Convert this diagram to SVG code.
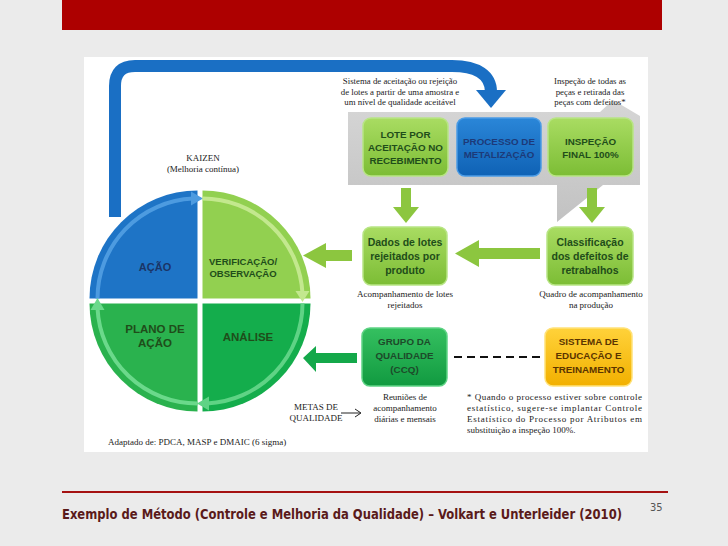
<svg xmlns="http://www.w3.org/2000/svg" width="728" height="546" viewBox="0 0 728 546">
<defs>
<linearGradient id="gLight" x1="0" y1="0" x2="0" y2="1"><stop offset="0" stop-color="#a9dc62"/><stop offset="1" stop-color="#7cbd35"/></linearGradient>
<linearGradient id="gBlue" x1="0" y1="0" x2="0" y2="1"><stop offset="0" stop-color="#2a86d8"/><stop offset="1" stop-color="#0f62b5"/></linearGradient>
<linearGradient id="gDark" x1="0" y1="0" x2="0" y2="1"><stop offset="0" stop-color="#35c060"/><stop offset="1" stop-color="#119a40"/></linearGradient>
<linearGradient id="gYel" x1="0" y1="0" x2="0" y2="1"><stop offset="0" stop-color="#ffd23a"/><stop offset="1" stop-color="#f2b000"/></linearGradient>
<linearGradient id="gBand" x1="0" y1="0" x2="0" y2="1"><stop offset="0" stop-color="#d6d6d6"/><stop offset="1" stop-color="#c2c2c2"/></linearGradient>
</defs>
<style>
.serif{font-family:"Liberation Serif","Times New Roman",serif;fill:#222;}
.box{font-family:"Liberation Sans",Arial,sans-serif;font-weight:bold;text-anchor:middle;}
.q{font-family:"Liberation Sans",Arial,sans-serif;font-weight:bold;text-anchor:middle;}
.gt{fill:#1f4d1a;}
.bt{fill:#1d3a78;}
.arrL{fill:#8cc63f;}
.arrD{fill:#14a84a;}
</style>
<rect x="0" y="0" width="728" height="546" fill="#ebebeb"/>
<rect x="62" y="0" width="600" height="30" fill="#ad0000"/>
<rect x="84" y="57" width="564" height="395" fill="#ffffff"/>

<!-- gray band -->
<path d="M348,112 L600,112 L613,100 L640,116 L640,185 L603,185 L557,222 L557,185 L348,185 Z" fill="url(#gBand)"/>

<!-- big blue arrow -->
<g id="kaizen-arrow">
<path d="M115,217 L115,86 Q115,66 135,66 L452,66 C478,66 491,76 491,92" fill="none" stroke="#1a6fc4" stroke-width="12"/>
<polygon points="476,90 506,90 491,108" fill="#1a6fc4"/>
</g>

<!-- circle -->
<g id="q-acao">
<path d="M197.5,298.5 L89.5,298.5 A108,108 0 0 1 197.5,190.5 Z" fill="#1e74c6"/>
<path d="M97.5,298.5 A100,100 0 0 1 193,198.6" fill="none" stroke="#4d9be0" stroke-width="4"/>
<polygon points="191,191.5 203,198.5 191,205.5" fill="#4d9be0"/>
<text class="q" x="155" y="271" font-size="11" fill="#1b3466">AÇÃO</text>
</g>
<g id="q-verif">
<path d="M202.5,298.5 L202.5,190.5 A108,108 0 0 1 310.5,298.5 Z" fill="#92d050"/>
<path d="M202.5,198.5 A100,100 0 0 1 302.5,294" fill="none" stroke="#c3e88e" stroke-width="4"/>
<polygon points="295.5,291 309.5,291 302.5,302" fill="#c3e88e"/>
<text class="q gt" x="243" y="265" font-size="9.5">VERIFICAÇÃO/</text>
<text class="q gt" x="243" y="277" font-size="9.5">OBSERVAÇÃO</text>
</g>
<g id="q-analise">
<path d="M202.5,303.5 L310.5,303.5 A108,108 0 0 1 202.5,411.5 Z" fill="#14ad4c"/>
<path d="M302.5,303.5 A100,100 0 0 1 207,403.4" fill="none" stroke="#5fd385" stroke-width="4"/>
<polygon points="209,396.5 197,403.5 209,410.5" fill="#5fd385"/>
<text class="q gt" x="248" y="341" font-size="11.5">ANÁLISE</text>
</g>
<g id="q-plano">
<path d="M197.5,303.5 L197.5,411.5 A108,108 0 0 1 89.5,303.5 Z" fill="#2ab24e"/>
<path d="M197.5,403.5 A100,100 0 0 1 97.5,308" fill="none" stroke="#6bd98b" stroke-width="4"/>
<polygon points="90.5,310 104.5,310 97.5,298" fill="#6bd98b"/>
<text class="q gt" x="155" y="333" font-size="11.5">PLANO DE</text>
<text class="q gt" x="155" y="347" font-size="11.5">AÇÃO</text>
</g>

<text class="serif" x="203" y="161" font-size="9" text-anchor="middle">KAIZEN</text>
<text class="serif" x="203" y="172" font-size="9" text-anchor="middle">(Melhoria contínua)</text>

<text class="serif" font-size="8.8" text-anchor="middle"><tspan x="400" y="84">Sistema de aceitação ou rejeição</tspan><tspan x="400" y="95">de lotes a partir de uma amostra e</tspan><tspan x="400" y="105">um nível de qualidade aceitável</tspan></text>
<text class="serif" font-size="8.8" text-anchor="middle"><tspan x="590" y="84">Inspeção de todas as</tspan><tspan x="590" y="95">peças e retirada das</tspan><tspan x="590" y="105">peças com defeitos*</tspan></text>

<!-- nodes -->
<g id="n-lote">
<rect x="363" y="118" width="85" height="58" rx="8" fill="url(#gLight)" stroke="#b8e585" stroke-width="1.5"/>
<text class="box gt" font-size="9.8"><tspan x="405.5" y="138">LOTE POR</tspan><tspan x="405.5" y="151">ACEITAÇÃO NO</tspan><tspan x="405.5" y="164">RECEBIMENTO</tspan></text>
</g>
<g id="n-processo">
<rect x="457" y="118" width="84" height="58" rx="8" fill="url(#gBlue)" stroke="#4b9ce6" stroke-width="1.5"/>
<text class="box bt" font-size="9.8"><tspan x="499" y="145">PROCESSO DE</tspan><tspan x="499" y="158">METALIZAÇÃO</tspan></text>
</g>
<g id="n-inspecao">
<rect x="548" y="118" width="85" height="58" rx="8" fill="url(#gLight)" stroke="#b8e585" stroke-width="1.5"/>
<text class="box gt" font-size="9.8"><tspan x="590.5" y="145">INSPEÇÃO</tspan><tspan x="590.5" y="158">FINAL 100%</tspan></text>
</g>
<g id="n-dados">
<rect x="363" y="227" width="84" height="58" rx="8" fill="url(#gLight)" stroke="#b8e585" stroke-width="1.5"/>
<text class="box gt" font-size="10.5"><tspan x="405" y="246">Dados de lotes</tspan><tspan x="405" y="260">rejeitados por</tspan><tspan x="405" y="274">produto</tspan></text>
</g>
<g id="n-classif">
<rect x="547" y="227" width="86" height="58" rx="8" fill="url(#gLight)" stroke="#b8e585" stroke-width="1.5"/>
<text class="box gt" font-size="10.5"><tspan x="590" y="246">Classificação</tspan><tspan x="590" y="260">dos defeitos de</tspan><tspan x="590" y="274">retrabalhos</tspan></text>
</g>
<g id="n-ccq">
<rect x="362" y="328" width="85" height="58" rx="8" fill="url(#gDark)" stroke="#5fd385" stroke-width="1.5"/>
<text class="box" font-size="9.8" fill="#1d4a2a"><tspan x="404.5" y="345">GRUPO DA</tspan><tspan x="404.5" y="359">QUALIDADE</tspan><tspan x="404.5" y="373">(CCQ)</tspan></text>
</g>
<g id="n-sistema">
<rect x="545" y="328" width="87" height="58" rx="8" fill="url(#gYel)" stroke="#ffe27a" stroke-width="1.5"/>
<text class="box" font-size="9.8" fill="#5a3400"><tspan x="588.5" y="345">SISTEMA DE</tspan><tspan x="588.5" y="359">EDUCAÇÃO E</tspan><tspan x="588.5" y="373">TREINAMENTO</tspan></text>
</g>

<!-- connectors -->
<g id="connectors">
<path class="arrL" d="M401,188 H411 V207 H419 L406,223 L393,207 H401 Z"/>
<path class="arrL" d="M587,188 H597 V207 H605 L592,223 L579,207 H587 Z"/>
<path class="arrL" d="M540,248 V259 H479 V267 L455,253.5 L479,240 V248 Z"/>
<path class="arrL" d="M352,250 V261 H326 V268 L303,255.5 L326,243 V250 Z"/>
<path class="arrD" d="M357,353 V363 H316 V372 L303,358 L316,346 V353 Z"/>
<line x1="454" y1="357" x2="543" y2="357" stroke="#111" stroke-width="2" stroke-dasharray="8,5"/>
<line x1="341" y1="413" x2="360" y2="413" stroke="#222" stroke-width="1"/>
<polyline points="355,409 361,413 355,417" fill="none" stroke="#222" stroke-width="1"/>
</g>

<text class="serif" font-size="9" text-anchor="middle"><tspan x="405" y="297">Acompanhamento de lotes</tspan><tspan x="405" y="308">rejeitados</tspan></text>
<text class="serif" font-size="9" text-anchor="middle"><tspan x="591" y="297">Quadro de acompanhamento</tspan><tspan x="591" y="308">na produção</tspan></text>
<text class="serif" font-size="9" text-anchor="middle"><tspan x="405" y="400">Reuniões de</tspan><tspan x="405" y="411">acompanhamento</tspan><tspan x="405" y="422">diárias e mensais</tspan></text>
<text class="serif" font-size="9" text-anchor="middle"><tspan x="316" y="410">METAS DE</tspan><tspan x="316" y="421">QUALIDADE</tspan></text>
<text class="serif" font-size="9"><tspan x="467" y="400" textLength="175" lengthAdjust="spacing">* Quando o processo estiver sobre controle</tspan><tspan x="467" y="411" textLength="175" lengthAdjust="spacing">estatístico, sugere-se implantar Controle</tspan><tspan x="467" y="422" textLength="175" lengthAdjust="spacing">Estatístico do Processo por Atributos em</tspan><tspan x="467" y="433">substituição a inspeção 100%.</tspan></text>
<text class="serif" x="108" y="445" font-size="9">Adaptado de: PDCA, MASP e DMAIC (6 sigma)</text>

<line x1="62" y1="492" x2="668" y2="492" stroke="#a51212" stroke-width="2"/>
<text x="62" y="519" font-family="'DejaVu Sans Condensed','Liberation Sans',sans-serif" font-weight="bold" font-size="13.5" fill="#5a1a1a" textLength="560" lengthAdjust="spacingAndGlyphs">Exemplo de Método  (Controle e Melhoria da Qualidade) – Volkart e Unterleider (2010)</text>
<text x="650" y="511" font-family="'DejaVu Sans Condensed','Liberation Sans',sans-serif" font-size="11" fill="#555">35</text>
</svg>
